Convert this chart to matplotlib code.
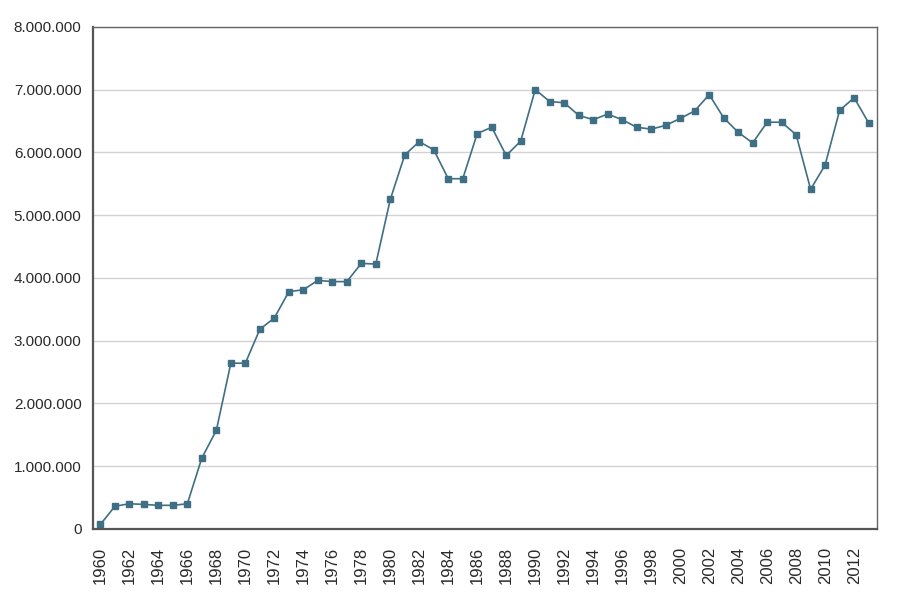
import numpy as np
import matplotlib
matplotlib.use('Agg')
import matplotlib.pyplot as plt
from matplotlib.ticker import FuncFormatter

# data
years = list(range(1960, 2014))
values = [
    70000, 360000, 400000, 390000, 375000, 375000, 400000,        # 1960-1966
    1130000, 1570000, 2640000, 2640000, 3180000, 3360000,         # 1967-1972
    3780000, 3810000, 3960000, 3940000, 3940000, 4230000, 4220000,  # 1973-1979
    5250000, 5960000, 6170000, 6040000, 5580000, 5580000,         # 1980-1985
    6300000, 6400000, 5950000, 6180000, 7000000, 6810000,         # 1986-1991
    6790000, 6590000, 6520000, 6610000, 6520000, 6400000,         # 1992-1997
    6370000, 6430000, 6540000, 6660000, 6920000, 6550000,         # 1998-2003
    6320000, 6150000, 6480000, 6480000, 6280000, 5410000,         # 2004-2009
    5800000, 6670000, 6870000, 6470000,                           # 2010-2013
]
tick_years = list(range(1960, 2013, 2))
y_ticks = list(range(0, 8000001, 1000000))

plt.rcParams['font.family'] = ['Liberation Sans', 'DejaVu Sans']

fig = plt.figure(figsize=(9, 6.1), dpi=100)
ax = fig.add_axes([0.103, 0.133, 0.871, 0.823])

x = np.arange(len(years))
ax.plot(x, values, color='#3e6f84', linewidth=1.2, marker='s',
        markersize=5, markerfacecolor='#3e6f84', markeredgecolor='#3e6f84')

ax.set_xlim(-0.53, len(years) - 0.45)
ax.set_ylim(0, 8000000)

ax.set_yticks(y_ticks)
ax.yaxis.set_major_formatter(FuncFormatter(lambda v, p: f'{int(v):,}'.replace(',', '.')))
ax.set_xticks([years.index(y) for y in tick_years])
ax.set_xticklabels([str(y) for y in tick_years], rotation=90)

ax.tick_params(axis='both', length=0, colors='#2a2a2a')
ax.tick_params(axis='y', labelsize=11, pad=8)
ax.tick_params(axis='x', labelsize=12, pad=13)

ax.grid(axis='y', color='#d2d2d2', linewidth=1.0)
ax.set_axisbelow(True)
for side in ['top', 'right']:
    ax.spines[side].set_color('#666666')
    ax.spines[side].set_linewidth(1.0)
for side in ['left', 'bottom']:
    ax.spines[side].set_color('#555555')
    ax.spines[side].set_linewidth(1.6)

fig.savefig('out.png', dpi=100)
